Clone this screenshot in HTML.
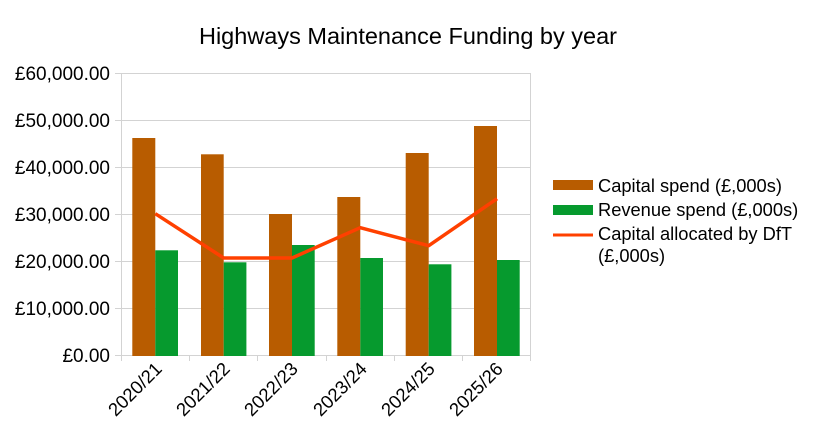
<!DOCTYPE html>
<html><head><meta charset="utf-8"><style>html,body{margin:0;padding:0;background:#fff}svg{display:block}</style></head>
<body>
<svg width="817" height="440" xmlns="http://www.w3.org/2000/svg" font-family="Liberation Sans, sans-serif">
<rect width="817" height="440" fill="#fff"/>
<text x="408" y="44" font-size="23.5" text-anchor="middle" fill="#000">Highways Maintenance Funding by year</text>
<g stroke="#d3d3d3" stroke-width="1">
<line x1="115" y1="73.5" x2="531" y2="73.5"/>
<line x1="115" y1="120.5" x2="531" y2="120.5"/>
<line x1="115" y1="167.5" x2="531" y2="167.5"/>
<line x1="115" y1="214.5" x2="531" y2="214.5"/>
<line x1="115" y1="261.5" x2="531" y2="261.5"/>
<line x1="115" y1="308.5" x2="531" y2="308.5"/>
<line x1="115" y1="355.5" x2="531" y2="355.5"/>
<line x1="121.5" y1="73" x2="121.5" y2="361"/>
<line x1="530.5" y1="73" x2="530.5" y2="361"/>
<line x1="189.5" y1="355" x2="189.5" y2="361"/>
<line x1="257.5" y1="355" x2="257.5" y2="361"/>
<line x1="326.5" y1="355" x2="326.5" y2="361"/>
<line x1="394.5" y1="355" x2="394.5" y2="361"/>
<line x1="462.5" y1="355" x2="462.5" y2="361"/>
</g>
<g font-size="19" text-anchor="end" fill="#000">
<text x="110" y="80">£60,000.00</text>
<text x="110" y="127">£50,000.00</text>
<text x="110" y="174">£40,000.00</text>
<text x="110" y="221">£30,000.00</text>
<text x="110" y="268">£20,000.00</text>
<text x="110" y="315">£10,000.00</text>
<text x="110" y="362">£0.00</text>
</g>
<g fill="#b85c00">
<rect x="132.3" y="138" width="23" height="218"/>
<rect x="201" y="154.3" width="22.7" height="201.7"/>
<rect x="269" y="214" width="23" height="142"/>
<rect x="337.3" y="197" width="23" height="159"/>
<rect x="405.7" y="153" width="23" height="203"/>
<rect x="474" y="126" width="23" height="230"/>
</g>
<g fill="#069a2e">
<rect x="155.3" y="250.3" width="22.7" height="105.7"/>
<rect x="223.7" y="262.3" width="22.7" height="93.7"/>
<rect x="292" y="245" width="22.7" height="111"/>
<rect x="360.3" y="258" width="22.7" height="98"/>
<rect x="428.7" y="264.3" width="22.7" height="91.7"/>
<rect x="497" y="260" width="22.7" height="96"/>
</g>
<polyline points="155.3,213.7 223.7,258 292,258 360.3,227.7 428.7,245.7 497,198.7" fill="none" stroke="#ff4000" stroke-width="3.5" stroke-linejoin="round"/>
<g font-size="18.5" fill="#000" text-anchor="end">
<text transform="translate(163,370) rotate(-45)">2020/21</text>
<text transform="translate(231,370) rotate(-45)">2021/22</text>
<text transform="translate(299,370) rotate(-45)">2022/23</text>
<text transform="translate(368,370) rotate(-45)">2023/24</text>
<text transform="translate(436,370) rotate(-45)">2024/25</text>
<text transform="translate(504,370) rotate(-45)">2025/26</text>
</g>
<rect x="553" y="180" width="40" height="10" fill="#b85c00"/>
<rect x="553" y="205" width="40" height="10" fill="#069a2e"/>
<rect x="553" y="233.5" width="40" height="3" fill="#ff4000"/>
<g font-size="18.3" fill="#000">
<text x="598" y="192">Capital spend (£,000s)</text>
<text x="598" y="216">Revenue spend (£,000s)</text>
<text x="598" y="240">Capital allocated by DfT</text>
<text x="598" y="262">(£,000s)</text>
</g>
</svg>
</body></html>
